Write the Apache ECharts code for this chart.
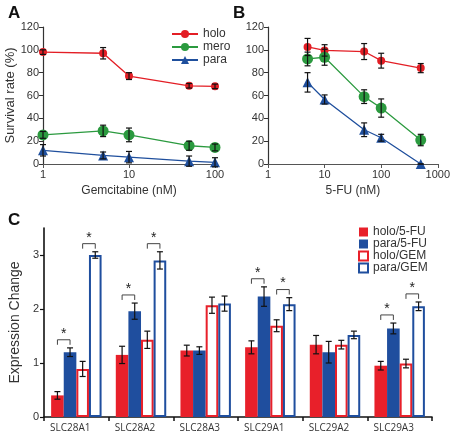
<!DOCTYPE html>
<html><head><meta charset="utf-8">
<script src="https://cdn.jsdelivr.net/npm/echarts@6/dist/echarts.min.js"></script>
<style>html,body{margin:0;padding:0;background:#fff}#c{width:453px;height:437px}</style>
</head><body><div id="c"></div>
<script>
// Panel A: Gemcitabine
const concGem = [1, 5, 10, 50, 100];
const holoGem = [98, 97, 77, 68.5, 68];
const holoGemErr = [2, 5, 3, 2, 2];
const meroGem = [25.5, 29, 25.5, 16, 14.5];
const meroGemErr = [3, 5, 6, 4, 3];
const paraGem = [12, 7.5, 6, 2.5, 1.5];
const paraGemErr = [5, 3, 5, 4.5, 4];
// Panel B: 5-FU
const concFU = [5, 10, 50, 100, 500];
const holoFU = [102.5, 99.5, 98.5, 90.5, 84];
const holoFUErr = [7.5, 5, 7, 6.5, 4];
const meroFU = [92, 93.5, 59, 49, 21];
const meroFUErr = [6, 7, 6, 8, 5];
const paraFU = [71.5, 56.5, 30, 23, 0];
const paraFUErr = [8.5, 4, 6, 3, 0];
// Panel C: expression change
const genes = ['SLC28A1', 'SLC28A2', 'SLC28A3', 'SLC29A1', 'SLC29A2', 'SLC29A3'];
const barNames = ['holo/5-FU', 'para/5-FU', 'holo/GEM', 'para/GEM'];
const holo5FU = [0.4, 1.15, 1.23, 1.29, 1.34, 0.95];
const holo5FUErr = [0.07, 0.16, 0.1, 0.12, 0.17, 0.08];
const para5FU = [1.2, 1.96, 1.23, 2.23, 1.2, 1.64];
const para5FUErr = [0.08, 0.15, 0.07, 0.18, 0.2, 0.1];
const holoGEM = [0.89, 1.43, 2.07, 1.69, 1.34, 0.99];
const holoGEMErr = [0.14, 0.16, 0.15, 0.11, 0.08, 0.08];
const paraGEM = [3.0, 2.9, 2.1, 2.09, 1.52, 2.05];
const paraGEMErr = [0.06, 0.16, 0.14, 0.12, 0.07, 0.08];
// significance brackets: [gene index, bar a, bar b]
const sigPairs = [[0,0,1],[0,2,3],[1,0,1],[1,2,3],[3,0,1],[3,2,3],[5,0,1],[5,2,3]];
const exprTicks = [0, 1, 2, 3];

const RED = '#e31e25', GREEN = '#2b9a3f', BLUE = '#1f4f9d';
const CRED = '#e8202a', CBLUE = '#1f4e9e';
const FONT = 'Liberation Sans, Arial, sans-serif';

const chart = echarts.init(document.getElementById('c'), null, {renderer: 'canvas'});

function lineS(name, xs, ys, ai, color, symbol, size) {
  return {type: 'line', name, xAxisIndex: ai, yAxisIndex: ai,
    data: xs.map((x, i) => [x, ys[i]]), symbol, symbolSize: size,
    lineStyle: {color, width: 1.3}, itemStyle: {color}, z: 3, animation: false};
}
function errS(xs, ys, es, ai) {
  return {type: 'custom', xAxisIndex: ai, yAxisIndex: ai, z: 5, animation: false,
    encode: {x: 0, y: [1, 2]}, silent: true,
    data: xs.map((x, i) => [x, ys[i] - es[i], ys[i] + es[i]]),
    renderItem: (p, api) => {
      const a = api.coord([api.value(0), api.value(1)]);
      const b = api.coord([api.value(0), api.value(2)]);
      const w = 3, st = {stroke: '#111', lineWidth: 1.2};
      return {type: 'group', children: [
        {type: 'line', shape: {x1: a[0], y1: a[1], x2: b[0], y2: b[1]}, style: st},
        {type: 'line', shape: {x1: a[0]-w, y1: a[1], x2: a[0]+w, y2: a[1]}, style: st},
        {type: 'line', shape: {x1: b[0]-w, y1: b[1], x2: b[0]+w, y2: b[1]}, style: st}]};
    }};
}
const GAP = 0.22;
const barVals = [holo5FU, para5FU, holoGEM, paraGEM];
const barErrs = [holo5FUErr, para5FUErr, holoGEMErr, paraGEMErr];
function barErrS(k) {
  return {type: 'custom', xAxisIndex: 2, yAxisIndex: 2, z: 5, animation: false, silent: true,
    encode: {x: 0, y: [1, 2]},
    data: genes.map((g, i) => [i, barVals[k][i] - barErrs[k][i], barVals[k][i] + barErrs[k][i]]),
    renderItem: (p, api) => {
      const band = api.size([1, 0])[0];
      const bw = band * (1 - GAP) / 4;
      const off = (k - 1.5) * bw;
      const a = api.coord([api.value(0), api.value(1)]);
      const b = api.coord([api.value(0), api.value(2)]);
      const x = a[0] + off, w = 3, st = {stroke: '#111', lineWidth: 1.2};
      return {type: 'group', children: [
        {type: 'line', shape: {x1: x, y1: a[1], x2: x, y2: b[1]}, style: st},
        {type: 'line', shape: {x1: x-w, y1: a[1], x2: x+w, y2: a[1]}, style: st},
        {type: 'line', shape: {x1: x-w, y1: b[1], x2: x+w, y2: b[1]}, style: st}]};
    }};
}
const sigData = sigPairs.map(([g, a, b]) => {
  const h = Math.max(barVals[a][g] + barErrs[a][g], barVals[b][g] + barErrs[b][g]) + 0.15;
  return [g, a, b, h];
});
const sigS = {type: 'custom', xAxisIndex: 2, yAxisIndex: 2, z: 6, animation: false, silent: true,
  encode: {x: 0, y: 3}, data: sigData,
  renderItem: (p, api) => {
    const band = api.size([1, 0])[0];
    const bw = band * (1 - GAP) / 4;
    const c = api.coord([api.value(0), api.value(3)]);
    const xa = c[0] + (api.value(1) - 1.5) * bw, xb = c[0] + (api.value(2) - 1.5) * bw;
    const y = c[1], t = 5;
    return {type: 'group', children: [
      {type: 'polyline', shape: {points: [[xa, y+t], [xa, y], [xb, y], [xb, y+t]]},
        style: {stroke: '#444', lineWidth: 1, fill: null}},
      {type: 'text', x: (xa+xb)/2, y: y+1, style: {text: '*', fontSize: 14, fontFamily: FONT,
        fill: '#222', align: 'center', verticalAlign: 'bottom'}}]};
  }};

const valAxisStyle = (ai) => ({
  type: 'value', gridIndex: ai, min: 0, max: 120, interval: 20,
  axisLine: {show: true, lineStyle: {color: '#333', width: 1.2}},
  axisTick: {show: true, length: 4, lineStyle: {color: '#333'}},
  splitLine: {show: false},
  axisLabel: {color: '#333', fontSize: 11, fontFamily: FONT, margin: 4}
});
const logAxis = (ai, max, name, gap) => ({
  type: 'log', logBase: 10, gridIndex: ai, min: 1, max,
  name, nameLocation: 'middle', nameGap: gap,
  nameTextStyle: {color: '#333', fontSize: 12, fontFamily: FONT},
  axisLine: {show: true, onZero: false, lineStyle: {color: '#555', width: 1.2}},
  axisTick: {show: true, length: 4, lineStyle: {color: '#555'}},
  minorTick: {show: false}, splitLine: {show: false},
  axisLabel: {color: '#333', fontSize: 11, fontFamily: FONT, margin: 5, formatter: v => String(Math.round(v))}
});

const option = {
  animation: false,
  backgroundColor: '#fff',
  title: [
    {text: 'A', left: 3, top: 0, textStyle: {fontSize: 17, fontWeight: 'bold', fontFamily: FONT, color: '#111'}},
    {text: 'B', left: 228, top: 0, textStyle: {fontSize: 17, fontWeight: 'bold', fontFamily: FONT, color: '#111'}},
    {text: 'C', left: 3, top: 207, textStyle: {fontSize: 17, fontWeight: 'bold', fontFamily: FONT, color: '#111'}}
  ],
  legend: [
    {data: ['holo', 'mero', 'para'], orient: 'vertical', left: 171, top: 28, padding: 0, itemWidth: 26, itemHeight: 10,
      itemGap: 1, textStyle: {fontSize: 12, lineHeight: 12, fontFamily: FONT, color: '#333'}},
    {data: barNames, orient: 'vertical', left: 358, top: 226, padding: 0, itemWidth: 9, itemHeight: 9, icon: 'rect',
      itemGap: 0, textStyle: {fontSize: 12, lineHeight: 12, fontFamily: FONT, color: '#333'}}
  ],
  grid: [
    {left: 43, top: 27, width: 172, height: 137},
    {left: 268, top: 27, width: 170, height: 137},
    {left: 39, top: 228, width: 393, height: 189}
  ],
  xAxis: [
    logAxis(0, 100, 'Gemcitabine (nM)', 21),
    logAxis(1, 1000, '5-FU (nM)', 21),
    {type: 'category', gridIndex: 2, data: genes,
      axisLine: {lineStyle: {color: '#111', width: 1.6}},
      axisTick: {show: true, length: 4, alignWithLabel: false, lineStyle: {color: '#111', width: 1.5}},
      axisLabel: {color: '#333', fontSize: 10, fontFamily: 'Open Sans, sans-serif', margin: 6, padding: [0, 12, 0, 0]}}
  ],
  yAxis: [
    Object.assign(valAxisStyle(0), {name: 'Survival rate (%)', nameLocation: 'middle', nameGap: 26,
      nameTextStyle: {color: '#333', fontSize: 13, fontFamily: FONT}}),
    valAxisStyle(1),
    {type: 'value', gridIndex: 2, min: 0, max: 3.5, interval: 0.5,
      name: 'Expression Change', nameLocation: 'middle', nameGap: 19,
      nameTextStyle: {color: '#333', fontSize: 14, fontFamily: FONT},
      axisLine: {show: true, lineStyle: {color: '#111', width: 1.6}},
      axisTick: {show: true, length: 4, customValues: exprTicks, lineStyle: {color: '#111', width: 1.2}},
      splitLine: {show: false},
      axisLabel: {color: '#333', fontSize: 11, fontFamily: FONT, margin: 5, customValues: exprTicks}}
  ],
  series: [
    lineS('holo', concGem, holoGem, 0, RED, 'circle', 8),
    lineS('mero', concGem, meroGem, 0, GREEN, 'circle', 11),
    lineS('para', concGem, paraGem, 0, BLUE, 'triangle', 10),
    lineS('holo', concFU, holoFU, 1, RED, 'circle', 8),
    lineS('mero', concFU, meroFU, 1, GREEN, 'circle', 11),
    lineS('para', concFU, paraFU, 1, BLUE, 'triangle', 10),
    errS(concGem, holoGem, holoGemErr, 0), errS(concGem, meroGem, meroGemErr, 0), errS(concGem, paraGem, paraGemErr, 0),
    errS(concFU, holoFU, holoFUErr, 1), errS(concFU, meroFU, meroFUErr, 1), errS(concFU, paraFU, paraFUErr, 1),
    {type: 'bar', name: barNames[0], xAxisIndex: 2, yAxisIndex: 2, data: holo5FU, barGap: '0%', barCategoryGap: (GAP*100)+'%',
      itemStyle: {color: CRED}},
    {type: 'bar', name: barNames[1], xAxisIndex: 2, yAxisIndex: 2, data: para5FU, barGap: '0%', barCategoryGap: (GAP*100)+'%',
      itemStyle: {color: CBLUE}},
    {type: 'bar', name: barNames[2], xAxisIndex: 2, yAxisIndex: 2, data: holoGEM, barGap: '0%', barCategoryGap: (GAP*100)+'%',
      itemStyle: {color: '#fff', borderColor: CRED, borderWidth: 2}},
    {type: 'bar', name: barNames[3], xAxisIndex: 2, yAxisIndex: 2, data: paraGEM, barGap: '0%', barCategoryGap: (GAP*100)+'%',
      itemStyle: {color: '#fff', borderColor: CBLUE, borderWidth: 2}},
    barErrS(0), barErrS(1), barErrS(2), barErrS(3),
    sigS
  ]
};
chart.setOption(option);
</script></body></html>
